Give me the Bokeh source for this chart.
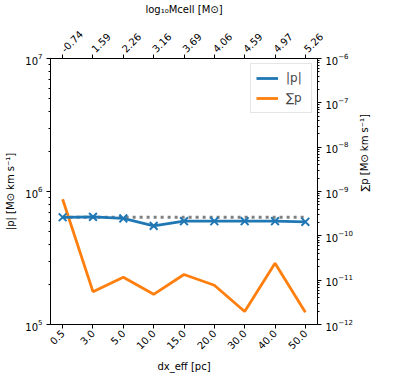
import math
from bokeh.plotting import figure
from bokeh.models import (Range1d, LogScale, LogAxis, LinearAxis, FixedTicker,
                          CustomJSTickFormatter, LogTickFormatter, Legend, LegendItem)
from bokeh.embed import file_html
from bokeh.resources import INLINE

# ---- data ----
dx_labels = ["0.5", "3.0", "5.0", "10.0", "15.0", "20.0", "30.0", "40.0", "50.0"]
logM_labels = ["-0.74", "1.59", "2.26", "3.16", "3.69", "4.06", "4.59", "4.97", "5.26"]
p_abs = [6.4e5, 6.45e5, 6.27e5, 5.52e5, 5.98e5, 5.98e5, 5.98e5, 5.98e5, 5.92e5]
p_sum = [6.7e-10, 5.5e-12, 1.16e-11, 4.8e-12, 1.34e-11, 7.7e-12, 1.96e-12, 2.4e-11, 1.9e-12]
p_ref = 6.4e5

idx = list(range(len(dx_labels)))

FONT = "DejaVu Sans"
FS = "10px"
BLUE = "#1f77b4"
ORANGE = "#ff7f0e"

p = figure(frame_width=267, frame_height=266, output_backend="svg", toolbar_location=None,
           x_range=Range1d(-0.4, len(idx) - 1 + 0.4), y_range=Range1d(1e5, 1e7),
           y_axis_type="log", x_axis_location=None, y_axis_location=None,
           min_border_left=50, min_border_right=60, min_border_top=54, min_border_bottom=52)
p.extra_y_ranges = {"right": Range1d(1e-12, 1e-6)}
p.extra_y_scales = {"right": LogScale()}
p.xgrid.visible = False
p.ygrid.visible = False
p.outline_line_color = "black"
p.outline_line_width = 1
p.background_fill_color = "white"


def style(ax, ls=3, als=2):
    ax.major_label_text_font = FONT
    ax.major_label_text_font_size = FS
    ax.major_label_text_color = "black"
    ax.axis_label_text_font = FONT
    ax.axis_label_text_font_size = FS
    ax.axis_label_text_font_style = "normal"
    ax.axis_label_text_color = "black"
    ax.major_tick_out = 4
    ax.major_tick_in = 0
    ax.minor_tick_out = 2
    ax.minor_tick_in = 0
    ax.axis_line_color = "black"
    ax.major_label_standoff = ls
    ax.axis_label_standoff = als


def minor(lo, hi):
    return [m * 10.0 ** e for e in range(lo, hi) for m in range(2, 10)]


# left axis
left = LogAxis(ticker=FixedTicker(ticks=[1e5, 1e6, 1e7], minor_ticks=minor(5, 7)),
               formatter=LogTickFormatter(),
               axis_label="|p| [M\u2299 km s\u207b\u00b9]")
style(left, 4, 6)
p.add_layout(left, "left")

# right axis
right = LogAxis(y_range_name="right",
                ticker=FixedTicker(ticks=[10.0 ** e for e in range(-12, -5)], minor_ticks=minor(-12, -6)),
                formatter=LogTickFormatter(),
                axis_label="\u2211p [M\u2299 km s\u207b\u00b9]")
style(right, 4, 9)
right.axis_label_orientation = math.pi / 2
p.add_layout(right, "right")

# bottom axis
bottom = LinearAxis(ticker=FixedTicker(ticks=idx, minor_ticks=[]),
                    formatter=CustomJSTickFormatter(args=dict(labels=dx_labels),
                                                    code="return labels[Math.round(tick)];"),
                    axis_label="dx_eff [pc]", major_label_orientation=math.pi / 4)
style(bottom, 3, 5)
p.add_layout(bottom, "below")

# top axis
top = LinearAxis(ticker=FixedTicker(ticks=idx, minor_ticks=[]),
                 formatter=CustomJSTickFormatter(args=dict(labels=logM_labels),
                                                 code="return labels[Math.round(tick)];"),
                 axis_label="log\u2081\u2080Mcell [M\u2299]", major_label_orientation=math.pi / 4)
style(top, 4, 9)
p.add_layout(top, "above")

# glyphs
p.line(idx, [p_ref] * len(idx), line_color="gray", line_width=3, line_dash="3 4")
l_sum = p.line(idx, p_sum, line_color=ORANGE, line_width=2.8, y_range_name="right")
l_abs = p.line(idx, p_abs, line_color=BLUE, line_width=2.8)
p.scatter(idx, p_abs, marker="x", size=11, line_color=BLUE, line_width=2)

legend = Legend(items=[LegendItem(label="|p|", renderers=[l_abs]),
                       LegendItem(label="\u2211p", renderers=[l_sum])],
                location="top_right", label_text_font=FONT, label_text_font_size="12px",
                border_line_color="#cccccc", background_fill_alpha=0.8,
                glyph_width=22, glyph_height=18, label_height=18,
                margin=5, padding=5, spacing=2, label_standoff=8)
p.add_layout(legend)

open("out.html", "w").write(file_html(p, INLINE))
